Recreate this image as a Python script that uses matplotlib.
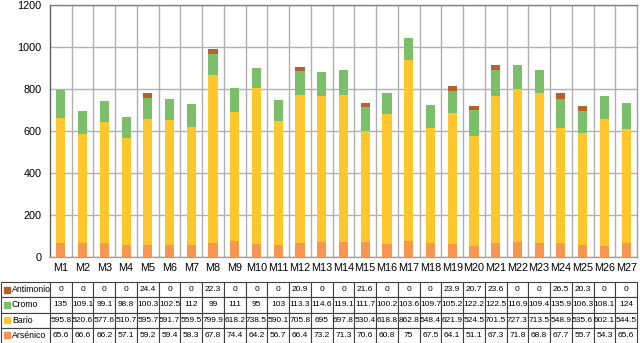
import matplotlib.pyplot as plt
import numpy as np

plt.rcParams['font.family'] = ['Liberation Sans', 'DejaVu Sans']

muestras = ["M%d" % i for i in range(1, 28)]
arsenico = [65.6, 66.6, 66.2, 57.1, 59.2, 59.4, 58.3, 67.8, 74.4, 64.2, 56.7, 66.4, 73.2, 71.3,
            70.6, 60.8, 75, 67.5, 64.1, 51.1, 67.3, 71.8, 68.8, 67.7, 55.7, 54.3, 65.6]
bario = [595.8, 520.6, 577.6, 510.7, 595.7, 591.7, 559.5, 799.9, 618.2, 738.5, 590.1, 705.8, 695, 697.8,
         530.4, 618.8, 862.8, 548.4, 621.9, 524.5, 701.5, 727.3, 713.5, 548.9, 535.6, 602.1, 544.5]
cromo = [135, 109.1, 99.1, 98.8, 100.3, 102.5, 112, 99, 111, 95, 103, 113.3, 114.6, 119.1,
         111.7, 100.2, 103.6, 109.7, 105.2, 122.2, 122.5, 116.9, 109.4, 135.9, 106.3, 108.1, 124]
antimonio = [0, 0, 0, 0, 24.4, 0, 0, 22.3, 0, 0, 0, 20.9, 0, 0,
             21.6, 0, 0, 0, 23.9, 20.7, 23.6, 0, 0, 26.5, 20.3, 0, 0]

series = [("Arsénico", arsenico, "#f8954e"),
          ("Bario", bario, "#ffc72c"),
          ("Cromo", cromo, "#7bbf6a"),
          ("Antimonio", antimonio, "#b5612a")]

fig = plt.figure(figsize=(6.4, 3.43), dpi=100)
ax = fig.add_axes([50 / 640, 1 - 257 / 343, 587 / 640, 252 / 343])

x = np.arange(len(muestras))
bottom = np.zeros(len(muestras))
for name, vals, col in series:
    vals = np.array(vals)
    ax.bar(x, vals, width=0.42, bottom=bottom, color=col, zorder=3)
    bottom += vals

ax.set_xlim(-0.5, len(muestras) - 0.5)
ax.set_ylim(0, 1200)
ax.set_yticks(np.arange(0, 1201, 200))
ax.set_xticks(x)
ax.set_xticklabels(muestras, fontsize=7.8)
ax.tick_params(axis='y', labelsize=7.8, length=0, pad=6)
ax.tick_params(axis='x', length=0, pad=4)
for v in np.arange(0.5, len(muestras) - 0.5, 1):
    ax.axvline(v, color='#b0b0b0', lw=1, zorder=1)
ax.yaxis.grid(True, color='#b0b0b0', lw=1, zorder=1)
for s in ax.spines.values():
    s.set_color('#a0a0a0')
    s.set_linewidth(1)
ax.spines['left'].set_color('#606060')
ax.spines['top'].set_color('#808080')

# table below the chart, top row = Antimonio
rows = list(reversed(series))
cell_text = []
for name, vals, col in rows:
    cell_text.append([name] + ["%g" % v for v in vals])
n = len(muestras)
col_w = [49 / 636] + [587 / 636 / n] * n
tab = ax.table(cellText=cell_text, colWidths=col_w, cellLoc='center',
               bbox=[-49 / 587, -86 / 252, 636 / 587, 61 / 252])
tab.auto_set_font_size(False)
tab.set_fontsize(6)
for (r, c), cell in tab.get_celld().items():
    cell.set_edgecolor('#404040')
    cell.set_linewidth(0.8)
    cell.PAD = 0.02
    if c == 0:
        cell.PAD = 0.22
        cell._loc = 'left'
        cell.get_text().set_ha('left')
        cell.get_text().set_fontsize(6.3)

# coloured keys in front of the row labels
row_h = 61 / 4
for i, (name, vals, col) in enumerate(rows):
    yc = 343 - (282 + row_h * (i + 0.5))
    fig.patches.append(plt.Rectangle((4 / 640, (yc - 3) / 343), 6 / 640, 6 / 343,
                                     transform=fig.transFigure, color=col))

fig.savefig("out.png", dpi=100)
